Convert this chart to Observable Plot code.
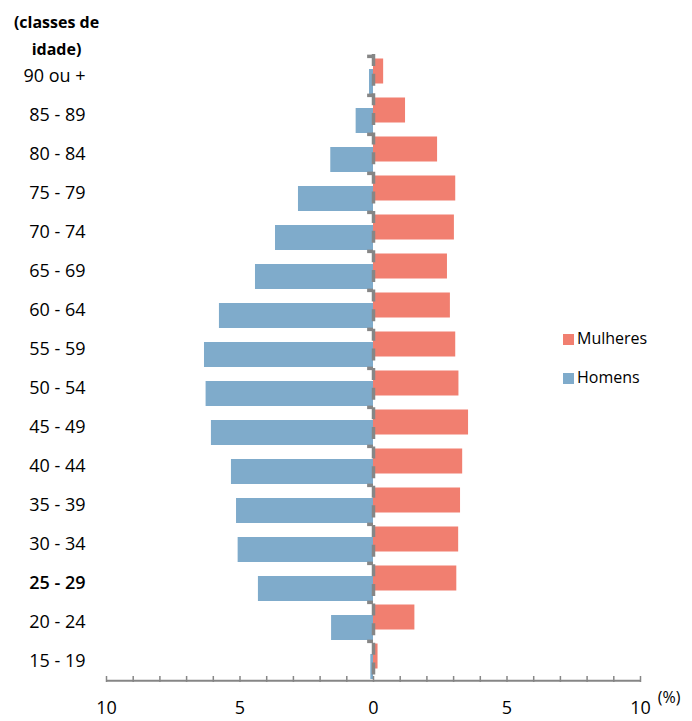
<!DOCTYPE html>
<html>
<head>
<meta charset="utf-8">
<script src="https://cdn.jsdelivr.net/npm/d3@7"></script>
<script src="https://cdn.jsdelivr.net/npm/@observablehq/plot@0.6"></script>
<style>
  html, body { margin: 0; padding: 0; background: #fff; }
  #wrap { position: relative; width: 692px; height: 721px; font-family: "Open Sans", sans-serif; }
  .leg { position: absolute; left: 563px; font-size: 16px; color: #000; line-height: 20px; white-space: nowrap; }
  .leg span.sw { display: inline-block; width: 11px; height: 11px; margin-right: 3px; vertical-align: -1px; }
</style>
</head>
<body>
<div id="wrap"></div>
<script>
// Categories (top to bottom)
const ages = ["90 ou +","85 - 89","80 - 84","75 - 79","70 - 74","65 - 69","60 - 64","55 - 59","50 - 54","45 - 49","40 - 44","35 - 39","30 - 34","25 - 29","20 - 24","15 - 19"];
// Percentages
const mulheres = [0.38, 1.2, 2.4, 3.08, 3.03, 2.77, 2.88, 3.08, 3.2, 3.56, 3.34, 3.26, 3.19, 3.12, 1.55, 0.17];
const homens   = [0.15, 0.65, 1.6, 2.81, 3.67, 4.42, 5.77, 6.33, 6.27, 6.07, 5.32, 5.13, 5.07, 4.31, 1.57, 0.1];
const xTicks = [-10, -5, 0, 5, 10];
const minorTicks = d3.range(-10, 11, 1);
const seriesNames = ["Mulheres", "Homens"];
const seriesColors = ["#F17F70", "#7FABCB"];

const fem = ages.map((a, i) => ({age: a, value: mulheres[i]}));
const mal = ages.map((a, i) => ({age: a, value: homens[i]}));

const W = 692, H = 721, mt = 54, mb = 39, ml = 106, mr = 52;
const step = (H - mt - mb) / ages.length;

const chart = Plot.plot({
  width: W, height: H,
  marginTop: mt, marginBottom: mb, marginLeft: ml, marginRight: mr,
  style: {fontFamily: "Open Sans, sans-serif", fontSize: "18px", color: "#000", background: "#fff"},
  x: {domain: [-10, 10], label: null},
  y: {domain: ages, paddingInner: 0.35, paddingOuter: 0.175, axis: null},
  marks: [
    Plot.barX(fem, {y: "age", x1: 0, x2: "value", fill: seriesColors[0], dy: -4.5}),
    Plot.barX(mal, {y: "age", x1: 0, x2: d => -d.value, fill: seriesColors[1], dy: 6}),
    // central category axis (dashed gray) with boundary stubs
    Plot.ruleX([0], {stroke: "#868686", strokeWidth: 3.5, strokeDasharray: `12,${step / 2 - 12}`}),
    Plot.ruleY(ages, {y: d => d, x1: -0.22, x2: 0, dy: -step / 2, stroke: "#868686", strokeWidth: 3.5}),
    // bottom axis line and ticks
    Plot.ruleY([ages[ages.length - 1]], {y: d => d, x1: -10, x2: 10, dy: step / 2, stroke: "#868686", strokeWidth: 2}),
    Plot.ruleX(minorTicks, {x: d => d, insetTop: H - mt - mb - 6, stroke: "#868686", strokeWidth: 1.5}),
    Plot.axisX({ticks: xTicks, tickSize: 0, tickPadding: 19, tickFormat: d => Math.abs(d), fontSize: 18, fill: "#000", label: null}),
    // category labels
    Plot.text(ages.filter(a => a !== "25 - 29"), {y: d => d, frameAnchor: "left", dx: -21, textAnchor: "end", fontSize: 18, fill: "#000"}),
    Plot.text(["25 - 29"], {y: d => d, frameAnchor: "left", dx: -21, textAnchor: "end", fontSize: 18, fill: "#000", fontWeight: 600}),
    // titles
    Plot.text(["(classes de\nidade)"], {frameAnchor: "top-left", dx: -50, dy: -46, textAnchor: "middle", lineAnchor: "top", fontSize: 16, fontWeight: "bold", lineHeight: 1.7, fill: "#000"}),
    Plot.text(["(%)"], {frameAnchor: "bottom-right", dx: 40, dy: 20, fontSize: 16, fill: "#000"})
  ]
});

const wrap = document.getElementById("wrap");
wrap.appendChild(chart);
const legTops = [328, 367];
seriesNames.forEach((n, i) => {
  const d = document.createElement("div");
  d.className = "leg";
  d.style.top = legTops[i] + "px";
  d.innerHTML = `<span class="sw" style="background:${seriesColors[i]}"></span>${n}`;
  wrap.appendChild(d);
});
chart.style.position = "absolute";
chart.style.left = "0";
chart.style.top = "0";
</script>
</body>
</html>
